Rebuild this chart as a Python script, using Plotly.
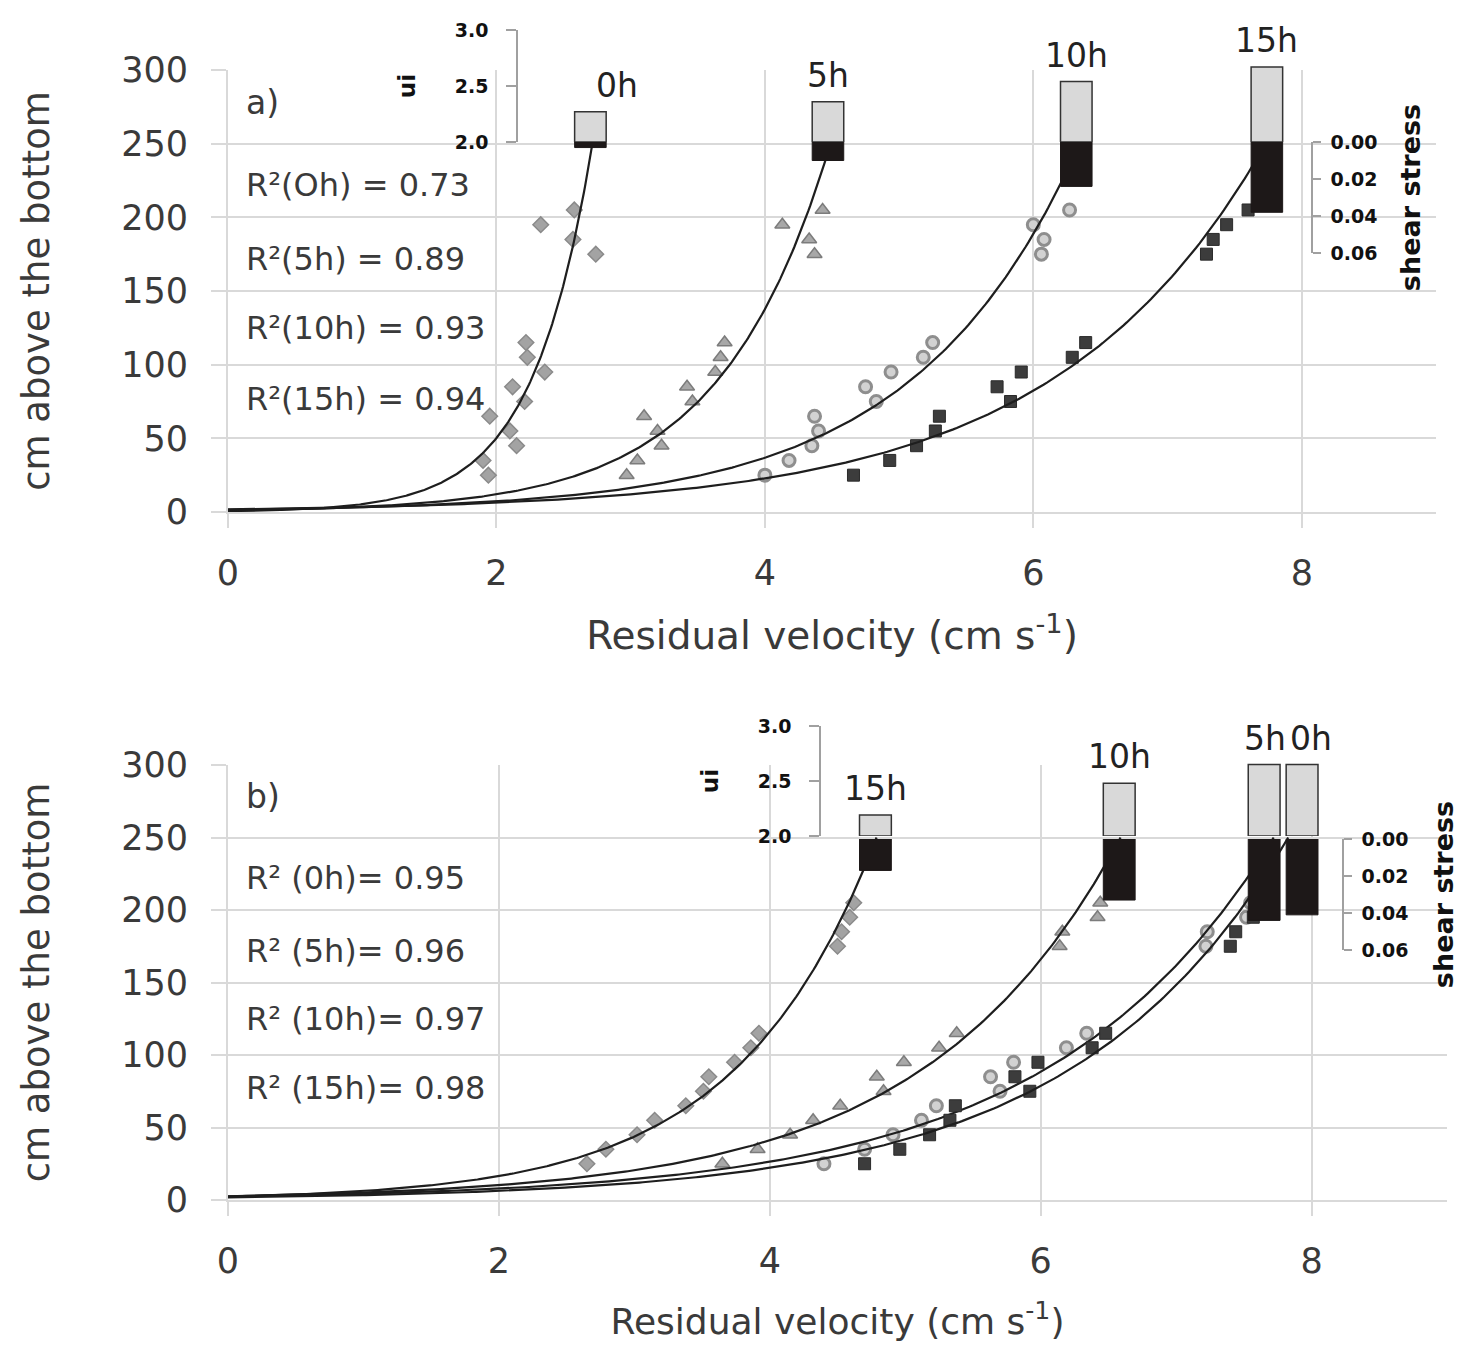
import numpy as np
import plotly.graph_objects as go

W, H = 1464, 1346
FONT = "DejaVu Sans"
PAGE_OFFSET = 8  # default page margin of the browser body

# ---------------- data ----------------
heights = [25, 35, 45, 55, 65, 75, 85, 95, 105, 115, 175, 185, 195, 205]

# panel a)
a_labels = ["0h", "5h", "10h", "15h"]
a_x_0h = [1.94, 1.90, 2.15, 2.10, 1.95, 2.21, 2.12, 2.36, 2.23, 2.22, 2.74, 2.57, 2.33, 2.58]
a_x_5h = [2.97, 3.05, 3.23, 3.20, 3.10, 3.46, 3.42, 3.63, 3.67, 3.70, 4.37, 4.33, 4.13, 4.43]
a_x_10h = [4.00, 4.18, 4.35, 4.40, 4.37, 4.83, 4.75, 4.94, 5.18, 5.25, 6.06, 6.08, 6.00, 6.27]
a_x_15h = [4.66, 4.93, 5.13, 5.27, 5.30, 5.83, 5.73, 5.91, 6.29, 6.39, 7.29, 7.34, 7.44, 7.60]
a_r2 = ["R²(Oh) = 0.73", "R²(5h) = 0.89", "R²(10h) = 0.93", "R²(15h) = 0.94"]
a_bar_x = [2.70, 4.47, 6.32, 7.74]
a_ui = [2.27, 2.36, 2.54, 2.67]
a_shear = [0.003, 0.010, 0.024, 0.038]

# panel b)
b_labels = ["15h", "10h", "5h", "0h"]
b_x_15h = [2.65, 2.79, 3.02, 3.15, 3.38, 3.51, 3.55, 3.74, 3.86, 3.92, 4.50, 4.53, 4.59, 4.62]
b_x_10h = [3.65, 3.91, 4.15, 4.32, 4.52, 4.84, 4.79, 4.99, 5.25, 5.38, 6.14, 6.16, 6.42, 6.44]
b_x_5h = [4.40, 4.70, 4.91, 5.12, 5.23, 5.70, 5.63, 5.80, 6.19, 6.34, 7.22, 7.23, 7.52, 7.55]
b_x_0h = [4.70, 4.96, 5.18, 5.33, 5.37, 5.92, 5.81, 5.98, 6.38, 6.48, 7.40, 7.44, 7.57, 7.62]
b_r2 = ["R² (0h)= 0.95", "R² (5h)= 0.96", "R² (10h)= 0.97", "R² (15h)= 0.98"]
b_bar_x = [4.78, 6.58, 7.65, 7.93]
b_ui = [2.19, 2.48, 2.65, 2.65]
b_shear = [0.017, 0.033, 0.044, 0.041]

ui_ticks = [2.0, 2.5, 3.0]
shear_ticks = [0.00, 0.02, 0.04, 0.06]
x_ticks = [0, 2, 4, 6, 8]
y_ticks = [0, 50, 100, 150, 200, 250, 300]

# ---------------- styles ----------------
STY = {
    "diamond": dict(symbol="diamond", size=12, color="#a3a3a3", line=dict(color="#8a8a8a", width=1.5)),
    "triangle": dict(symbol="triangle-up", size=13, color="#a8a8a8", line=dict(color="#7c7c7c", width=1.5)),
    "circle": dict(symbol="circle", size=12, color="#d2d2d2", line=dict(color="#8e8e8e", width=3)),
    "square": dict(symbol="square", size=12, color="#3c3c3c", line=dict(color="#2a2a2a", width=1)),
}
GRID = "#d9d9d9"
TXT = "#3a3a3a"


def px_x(p):
    return (p - PAGE_OFFSET) / W


def px_y(p):
    return 1 - (p - PAGE_OFFSET) / H


fig = go.Figure()


def add_series(xs, style, xa, ya):
    xs = np.array(xs)
    ys = np.array(heights, dtype=float)
    b, ln_a = np.polyfit(xs, np.log(ys), 1)   # exponential trend line
    x_end = (np.log(250.0) - ln_a) / b
    xc = np.linspace(0, x_end, 300)
    yc = np.exp(ln_a + b * xc)
    fig.add_trace(go.Scatter(x=xs, y=ys, mode="markers", marker=STY[style],
                             xaxis=xa, yaxis=ya, showlegend=False))
    fig.add_trace(go.Scatter(x=xc, y=yc, mode="lines", line=dict(color="#1e1e1e", width=2.2),
                             xaxis=xa, yaxis=ya, showlegend=False, hoverinfo="skip"))


for xs, st in zip([a_x_0h, a_x_5h, a_x_10h, a_x_15h], ["diamond", "triangle", "circle", "square"]):
    add_series(xs, st, "x", "y")
for xs, st in zip([b_x_15h, b_x_10h, b_x_5h, b_x_0h], ["diamond", "triangle", "circle", "square"]):
    add_series(xs, st, "x2", "y2")

# inset bars
for bx, ui, sh, xa, yu, ys in [(a_bar_x, a_ui, a_shear, "x3", "y3", "y4"),
                              (b_bar_x, b_ui, b_shear, "x4", "y5", "y6")]:
    fig.add_trace(go.Bar(x=bx, y=[u - 2.0 for u in ui], base=2.0, width=0.235,
                         marker=dict(color="#d9d9d9", line=dict(color="#333333", width=1.5)),
                         xaxis=xa, yaxis=yu, showlegend=False))
    fig.add_trace(go.Bar(x=bx, y=sh, base=0, width=0.235,
                         marker=dict(color="#1d1818", line=dict(color="#1d1818", width=1)),
                         xaxis=xa, yaxis=ys, showlegend=False))

# ---------------- axes ----------------
main_x = dict(range=[0, 9], tickvals=x_ticks, showgrid=True, gridcolor=GRID, gridwidth=2,
              zeroline=False, showline=True, linecolor=GRID, linewidth=2,
              ticks="outside", ticklen=14, tickcolor=GRID, tickwidth=2, ticklabelstandoff=15,
              tickfont=dict(family=FONT, size=35, color=TXT), automargin=True)
main_y = dict(range=[0, 300], tickvals=y_ticks, showgrid=True, gridcolor=GRID, gridwidth=2,
              zeroline=False, showline=True, linecolor=GRID, linewidth=2,
              ticks="outside", ticklen=15, tickcolor=GRID, tickwidth=2, ticklabelstandoff=16,
              tickfont=dict(family=FONT, size=35, color=TXT), automargin=True,
              title=dict(text="cm above the bottom", font=dict(family=FONT, size=37, color=TXT), standoff=60))

a_dom_x = [px_x(228), px_x(1436)]
b_dom_x = [px_x(228), px_x(1447)]
a_dom_y = [px_y(512), px_y(70)]
b_dom_y = [px_y(1200), px_y(765)]

xt_a = dict(text="Residual velocity (cm s<sup>-1</sup>)", font=dict(family=FONT, size=39, color=TXT), standoff=30)
xt_b = dict(text="Residual velocity (cm s<sup>-1</sup>)", font=dict(family=FONT, size=36, color=TXT), standoff=29)

fig.update_layout(
    xaxis=dict(main_x, domain=a_dom_x, anchor="y", title=xt_a),
    yaxis=dict(main_y, domain=a_dom_y, anchor="x"),
    xaxis2=dict(main_x, domain=b_dom_x, anchor="y2", title=xt_b),
    yaxis2=dict(main_y, domain=b_dom_y, anchor="x2"),
)

hidden_x = dict(range=[0, 9], visible=False, showgrid=False, zeroline=False, fixedrange=True)
inset_font = dict(family=FONT, size=19, color="#111111", weight="bold")


def ui_axis(dom, pos):
    return dict(range=[2.0, 3.0], domain=dom, anchor="free", position=pos, side="left",
                tickvals=ui_ticks, ticktext=["%.1f" % v for v in ui_ticks],
                showgrid=False, zeroline=False, showline=True, linecolor="#a0a0a0", linewidth=1.5,
                ticks="outside", ticklen=10, tickcolor="#a0a0a0", tickwidth=1.5, ticklabelstandoff=14,
                tickfont=inset_font, automargin=True,
                title=dict(text="ui", font=dict(family=FONT, size=23, color="#111111", weight="bold"),
                           standoff=32))


def shear_axis(dom, pos, standoff):
    return dict(range=[0.06, 0.0], domain=dom, anchor="free", position=pos, side="right",
                tickvals=shear_ticks, ticktext=["%.2f" % v for v in shear_ticks],
                showgrid=False, zeroline=False, showline=True, linecolor="#a0a0a0", linewidth=1.5,
                ticks="outside", ticklen=8, tickcolor="#a0a0a0", tickwidth=1.5, ticklabelstandoff=6,
                tickfont=inset_font, automargin=True,
                title=dict(text="shear stress", font=dict(family=FONT, size=27, color="#111111", weight="bold"),
                           standoff=standoff))


fig.update_layout(
    xaxis3=dict(hidden_x, domain=a_dom_x, anchor="y3"),
    yaxis3=ui_axis([px_y(142), px_y(30)], px_x(517)),
    yaxis4=shear_axis([px_y(253), px_y(142)], px_x(1312), 24),
    xaxis4=dict(hidden_x, domain=b_dom_x, anchor="y5"),
    yaxis5=ui_axis([px_y(836), px_y(726)], px_x(820)),
    yaxis6=shear_axis([px_y(950), px_y(839)], px_x(1343), 26),
)

# ---------------- annotations ----------------
ann = []
label_shift = {("a", "0h"): 27, ("b", "5h"): 1, ("b", "0h"): 9}
for panel, bx, ui, labs, xa, ya in [("a", a_bar_x, a_ui, a_labels, "x3", "y3"),
                                    ("b", b_bar_x, b_ui, b_labels, "x4", "y5")]:
    for xv, uv, lab in zip(bx, ui, labs):
        ann.append(dict(x=xv, y=uv, xref=xa, yref=ya, text=lab, showarrow=False,
                        yanchor="bottom", xanchor="center", xshift=label_shift.get((panel, lab), 0),
                        yshift=5, font=dict(family=FONT, size=33, color="#222222")))

r2_y = [222, 172, 125, 77]
for texts, xa, ya, tag in [(a_r2, "x", "y", "a)"), (b_r2, "x2", "y2", "b)")]:
    ann.append(dict(x=0.12, y=278, xref=xa, yref=ya, text=tag, showarrow=False,
                    xanchor="left", yanchor="middle", font=dict(family=FONT, size=33, color=TXT)))
    for t, yv in zip(texts, r2_y):
        ann.append(dict(x=0.12, y=yv, xref=xa, yref=ya, text=t, showarrow=False,
                        xanchor="left", yanchor="middle", font=dict(family=FONT, size=32, color=TXT)))

fig.update_layout(
    annotations=ann,
    width=W, height=H,
    margin=dict(l=0, r=0, t=0, b=0, autoexpand=False),
    paper_bgcolor="white", plot_bgcolor="rgba(0,0,0,0)",
    barmode="overlay",
    showlegend=False,
    font=dict(family=FONT, color=TXT),
)

fig.write_html("out.html")
